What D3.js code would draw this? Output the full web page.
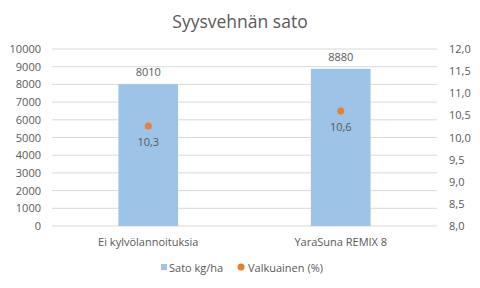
<!DOCTYPE html>
<html>
<head>
<meta charset="utf-8">
<script src="https://cdn.jsdelivr.net/npm/d3@7"></script>
<style>
  body { margin: 0; background: #fff; }
  svg text { font-family: "Open Sans", "Noto Sans", sans-serif; fill: #595959; }
</style>
</head>
<body>
<script>
// arvot kuvasta
const categories = ["Ei kylvölannoituksia", "YaraSuna REMIX 8"];
const yieldKg = [8010, 8880];
const protein = [10.26, 10.6];
const leftTicks = d3.range(0, 10001, 1000);
const rightTicks = d3.range(8, 12.01, 0.5);

let width = 480, height = 288;
let margin = {top: 49, right: 43, bottom: 62, left: 52};

let svg = d3.select("body").append("svg")
  .attr("width", width)
  .attr("height", height);

svg.append("text")
  .attr("x", 240).attr("y", 28)
  .attr("text-anchor", "middle")
  .style("font-size", "17.5px")
  .text("Syysvehnän sato");

let x = d3.scaleBand()
  .domain(categories)
  .range([margin.left, width - margin.right])
  .paddingInner(0.69).paddingOuter(0.345);

let y = d3.scaleLinear().domain([0, 10000]).range([height - margin.bottom, margin.top]);
let y2 = d3.scaleLinear().domain([8, 12]).range([height - margin.bottom, margin.top]);

// ruudukko
svg.append("g")
  .selectAll("line")
  .data(leftTicks)
  .join("line")
  .attr("x1", margin.left).attr("x2", width - margin.right)
  .attr("y1", d => y(d)).attr("y2", d => y(d))
  .attr("stroke", "#d9d9d9").attr("stroke-width", 1);

let fmt = d3.format(".1f");
let comma = v => fmt(v).replace(".", ",");

let gl = svg.append("g")
  .attr("transform", `translate(${margin.left - 6},0)`)
  .call(d3.axisLeft(y).tickValues(leftTicks).tickSize(0).tickPadding(5).tickFormat(d3.format("d")));
gl.select(".domain").remove();

let gr = svg.append("g")
  .attr("transform", `translate(${width - margin.right + 7},0)`)
  .call(d3.axisRight(y2).tickValues(rightTicks).tickSize(0).tickPadding(5).tickFormat(comma));
gr.select(".domain").remove();

svg.selectAll(".tick text")
  .style("font-size", "11px")
  .style("font-family", "'Open Sans', 'Noto Sans', sans-serif")
  .attr("fill", "#595959");

// pylväät
svg.append("g")
  .selectAll("rect")
  .data(yieldKg)
  .join("rect")
  .attr("x", (d, i) => x(categories[i]))
  .attr("width", x.bandwidth())
  .attr("y", d => y(d))
  .attr("height", d => y(0) - y(d))
  .attr("fill", "#9dc3e6");

svg.append("g")
  .selectAll("text")
  .data(yieldKg)
  .join("text")
  .attr("x", (d, i) => x(categories[i]) + x.bandwidth() / 2)
  .attr("y", d => y(d) - 8)
  .attr("text-anchor", "middle")
  .style("font-size", "11px")
  .text(d => d);

// valkuainen
svg.append("g")
  .selectAll("circle")
  .data(protein)
  .join("circle")
  .attr("cx", (d, i) => x(categories[i]) + x.bandwidth() / 2)
  .attr("cy", d => y2(d))
  .attr("r", 3.5)
  .attr("fill", "#ed7d31");

svg.append("g")
  .selectAll("text")
  .data(protein)
  .join("text")
  .attr("x", (d, i) => x(categories[i]) + x.bandwidth() / 2)
  .attr("y", d => y2(d) + 20)
  .attr("text-anchor", "middle")
  .style("font-size", "11px")
  .attr("fill", "#404040")
  .text(d => comma(d));

// kategoriat
svg.append("g")
  .selectAll("text")
  .data(categories)
  .join("text")
  .attr("x", d => x(d) + x.bandwidth() / 2)
  .attr("y", height - margin.bottom + 20)
  .attr("text-anchor", "middle")
  .style("font-size", "11px")
  .text(d => d);

// selite
let lg = svg.append("g").attr("transform", "translate(0,268)");
lg.append("rect").attr("x", 161).attr("y", -4).attr("width", 6).attr("height", 6).attr("fill", "#9dc3e6");
lg.append("text").attr("x", 169).attr("y", 4).style("font-size", "11px").text("Sato kg/ha");
lg.append("circle").attr("cx", 241).attr("cy", -1).attr("r", 3.5).attr("fill", "#ed7d31");
lg.append("text").attr("x", 248).attr("y", 4).style("font-size", "11px").text("Valkuainen (%)");
</script>
</body>
</html>
